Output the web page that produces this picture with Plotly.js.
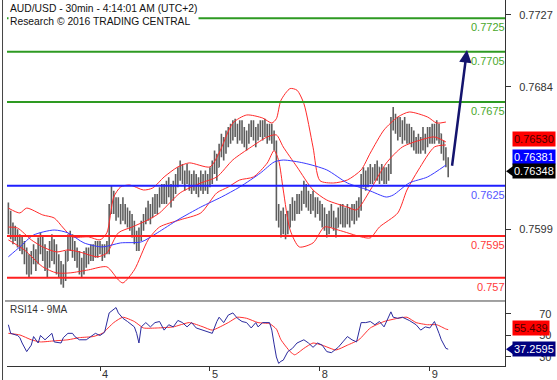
<!DOCTYPE html>
<html><head><meta charset="utf-8">
<script src="https://cdn.plot.ly/plotly-3.0.1.min.js"></script>
<style>html,body{margin:0;padding:0;background:#fff}#c{width:557px;height:380px}</style>
</head><body><div id="c"></div>
<script>
// Prices are stored in pips above BASE (price = BASE + v * PIP)
const BASE = 0.75, PIP = 0.0001;
const dayIdx = [40, 88, 136, 184];
const dayLbl = ['4', '5', '8', '9'];

const opens = [104,108,100,96,98,94,92,90,84,80, 78,82,86,80,88,92,86,82,78,84, 90,86,80,76,72,70,80,90,94,88,
 86,82,78,74,80,84,82,86,84,88, 86,88,84,86,88,110,118,115,110,112, 108,112,108,106,104,100,96,92,94,100,
 104,108,110,106,112,116,114,118,122,118, 120,124,118,122,126,130,134,130,128,132, 128,126,130,128,124,128,126,130,126,128,
 134,140,136,144,150,146,152,156,154,158, 160,156,160,158,154,152,156,160,158,154, 156,160,158,160,156,158,156,150,110,106,
 100,104,98,104,108,112,110,116,114,118, 122,118,116,114,116,112,114,110,104,106, 100,104,108,104,100,106,110,108,104,108,
 106,110,108,110,112,126,132,128,130,134, 130,132,136,130,134,130,132,134,160,166, 162,158,162,156,160,156,158,154,152,148,
 152,150,154,150,156,154,158,156,160,156, 150,146,140];
const highs = [115,110,103,101,99,96,95,92,88,84, 86,90,87,94,97,95,90,86,92,96, 93,90,84,80,78,86,96,98,96,92,
 88,86,82,86,88,88,90,90,92,92, 92,90,90,92,114,125,122,118,118,114, 118,114,112,110,108,104,98,100,104,108,
 112,116,114,118,120,120,124,126,126,128, 130,126,128,132,136,140,138,134,138,134, 132,134,132,130,134,132,134,132,136,140,
 146,144,150,156,154,158,160,162,164,165, 162,164,164,160,158,162,164,164,160,162, 164,164,165,162,162,162,158,152,114,110,
 112,108,110,114,118,116,120,120,122,128, 126,122,120,122,118,118,116,114,112,108, 110,114,110,106,112,114,114,112,114,112,
 114,114,116,118,132,136,134,136,138,136, 138,140,136,138,136,136,138,166,172,168, 166,166,164,166,162,162,160,158,154,156,
 154,160,156,160,160,162,162,164,162,156, 152,148,142];
const lows = [96,93,90,92,88,86,84,78,72,70, 72,78,74,78,84,80,74,70,76,80, 78,72,70,66,64,68,80,86,82,80,
 76,72,70,72,76,78,80,80,82,82, 84,80,82,84,84,108,108,104,106,102, 104,102,100,98,94,90,86,86,92,98,
 102,104,102,106,108,108,112,114,114,114, 118,112,116,120,124,128,126,122,126,122, 120,122,120,118,122,120,122,120,124,126,
 132,128,136,142,140,144,148,150,152,154, 150,152,150,148,146,150,154,152,148,152, 154,152,154,150,152,150,146,104,100,94,
 96,93,96,100,104,104,108,108,110,114, 112,110,108,110,106,108,104,100,98,94, 96,100,98,94,100,102,100,100,102,100,
 104,102,104,106,110,124,122,124,126,126, 128,128,126,128,126,126,128,132,158,156, 152,154,150,152,150,150,148,146,144,144,
 144,146,144,148,150,150,150,152,150,144, 140,136,130];
const closes = [108,100,96,98,94,92,90,84,80,78, 82,86,80,88,92,86,82,78,84,90, 86,80,76,72,70,80,90,94,88,86,
 82,78,74,80,84,82,86,84,88,86, 88,84,86,88,110,118,115,110,112,108, 112,108,106,104,100,96,92,94,100,104,
 108,110,106,112,116,114,118,122,118,120, 124,118,122,126,130,134,130,128,132,128, 126,130,128,124,128,126,130,126,128,134,
 140,136,144,150,146,152,156,154,158,160, 156,160,158,154,152,156,160,158,154,156, 160,158,160,156,158,156,150,110,106,100,
 104,98,104,108,112,110,116,114,118,122, 118,116,114,116,112,114,110,104,106,100, 104,108,104,100,106,110,108,104,108,106,
 110,108,110,112,126,132,128,130,134,130, 132,136,130,134,130,132,134,160,166,162, 158,162,156,160,156,158,154,152,148,152,
 150,154,150,156,154,158,156,160,156,150, 146,140,134.8];

// Bollinger bands (pips) sampled along the bar index
const upX  = [0,5,8,15,20,24,28,35,40,43,46,49,53,59,63,68,74,79,88,92,98,104,111,115,117,119,123,126,129,133,136,142,148,154,158,164,170,175,183,187,191];
const upV  = [111.6,108.7,111.6,107.5,105.7,99.7,94.4,94.4,92.6,96.8,118.2,124.2,125.4,122.4,123.6,130.2,136.2,138.6,136.2,144.5,162.4,167.2,165.4,162.4,165,176,183,182,174,148,128,126.6,128.4,134.4,144.5,158.3,166,169,166,162.4,163];
const midX = [0,4,10,15,21,26,31,39,43,48,54,61,66,75,84,91,98,106,113,117,120,126,133,139,148,152,158,165,172,180,186,191];
const midV = [100.3,99.7,92.6,88.4,85.4,86.6,85.4,82.5,84.8,96.8,100.3,104.6,108.7,120.7,126.6,130.2,140.4,148.1,154.1,155.3,148.1,136.2,122.4,116.4,112.2,110.5,122.4,138.5,148.1,152.3,154.1,151.1];
const lowX = [0,7,15,21,27,35,43,48,50,55,61,66,75,84,91,96,101,107,113,116,118,120,123,127,133,138,144,154,158,162,170,174,179,186,191];
const lowV = [92.6,86.6,76.5,72.9,72.9,74.7,76.5,68.7,66.9,74.7,92.6,100.3,104.6,108.7,120.7,124.2,128.4,130.2,138.5,146,140,122.4,98.5,88.4,90.8,100.3,98.5,94.4,93.8,100.3,108.7,122.4,134.4,148.1,149.3];
// Blue moving average (pips)
const maX = [0,5,11,20,26,33,41,49,58,65,74,84,93,101,110,116,120,129,139,148,157,165,168,175,183,191];
const maV = [82.5,88.4,95.5,98.5,96.8,90.8,88.4,90.8,91.4,96.8,104.6,112.2,118.2,124.2,132.5,139.1,140.3,138.5,134.4,126.6,122.4,118.2,119.4,126.6,130.2,137.3];

// Support / resistance levels
const greenLevels = [0.7725, 0.7705, 0.7675];
const blueLevels = [0.7625];
const redLevels = [0.7595, 0.757];
const levelLabels = ['0.7725','0.7705','0.7675','0.7625','0.7595','0.757'];

// Projected path arrow [index, price]
const arrowFrom = [193.6, 0.7636];
const arrowTo = [200.2, 0.7706];

// RSI(14) and its 9-period MA
const rsiX = [0,1,4,5,6,8,10,11,13,14,16,19,20,23,24,26,28,29,31,34,36,38,40,42,44,47,48,50,52,55,56,57,58,60,62,64,66,68,70,72,74,76,78,80,82,85,87,89,91,92,94,96,98,100,102,104,106,108,109,111,114,115,116,117,118,119,120,122,124,126,129,131,133,135,137,139,141,144,146,148,150,152,154,156,158,160,162,164,167,168,170,172,175,178,180,182,184,186,188,189,191,192];
const rsiV = [60,52,50,48,43,35,41,49,43,50,46,52,44,43,48,52,52,49,46,46,49,52,50,53,71,76,71,66,63,58,52,43,58,62,58,62,63,55,60,58,64,62,58,62,57,55,53,52,63,67,62,69,71,66,63,62,57,62,58,62,62,55,42,30,24,26,27,35,38,43,46,43,39,43,41,35,34,39,44,49,46,44,62,62,63,60,63,58,72,67,66,67,64,60,55,58,57,63,52,46,38,37.2595];
const rsiMaX = [0,5,10,14,20,26,31,37,41,46,50,55,59,65,72,79,85,89,96,100,104,109,114,117,119,123,125,129,133,137,143,148,153,158,164,170,174,178,183,187,191,192];
const rsiMaV = [52,50.5,46,44,45,46,48,49,52,62,67,63,57,57,58,62,58,55,62,67,66,62,61,56,46,35,32,38,43,41,36.5,41,46,57,63,66,67,62,60,60,56,55.439];

// Current values shown on the right axis
const lastUpper = 0.76530, lastMA = 0.76381, lastClose = 0.76348;
const lastRsiMa = 55.439, lastRsi = 37.2595;

const P = v => BASE + v * PIP;
const idx = closes.map((_, i) => i);
const FONT = 'Liberation Sans, Arial, sans-serif';

const mainDom = [0.1776, 1];
const traces = [
  {type:'ohlc', x:idx, open:opens.map(P), high:highs.map(P), low:lows.map(P), close:closes.map(P),
   increasing:{line:{color:'#5e5e5e', width:1.6}}, decreasing:{line:{color:'#5e5e5e', width:1.6}},
   tickwidth:0.35, hoverinfo:'skip', xaxis:'x', yaxis:'y'},
  {type:'scatter', mode:'lines', x:upX, y:upV.map(P), line:{color:'#ff2a2a', width:1, shape:'spline', smoothing:0.7}, hoverinfo:'skip'},
  {type:'scatter', mode:'lines', x:midX, y:midV.map(P), line:{color:'#ff2a2a', width:1, shape:'spline', smoothing:0.7}, hoverinfo:'skip'},
  {type:'scatter', mode:'lines', x:lowX, y:lowV.map(P), line:{color:'#ff2a2a', width:1, shape:'spline', smoothing:0.7}, hoverinfo:'skip'},
  {type:'scatter', mode:'lines', x:maX, y:maV.map(P), line:{color:'#3a3aff', width:1, shape:'spline', smoothing:0.7}, hoverinfo:'skip'},
  {type:'scatter', mode:'lines', x:rsiMaX, y:rsiMaV, yaxis:'y2', line:{color:'#ff3030', width:1, shape:'spline', smoothing:0.5}, hoverinfo:'skip'},
  {type:'scatter', mode:'lines', x:rsiX, y:rsiV, yaxis:'y2', line:{color:'#2b2b9e', width:1}, hoverinfo:'skip'}
];

const shapes = [];
const annotations = [];
function addLevel(v, color, txtColor, label) {
  shapes.push({type:'line', xref:'paper', x0:0, x1:1, yref:'y', y0:v, y1:v, line:{color:color, width:2}});
  annotations.push({xref:'paper', x:1, xanchor:'right', xshift:2, yref:'y', y:v, yanchor:'top', yshift:-1,
    text:label, showarrow:false, font:{family:FONT, size:11, color:txtColor}});
}
let li = 0;
greenLevels.forEach(v => addLevel(v, '#2e9a22', '#4aa82c', levelLabels[li++]));
blueLevels.forEach(v => addLevel(v, '#1f1fff', '#5555ff', levelLabels[li++]));
redLevels.forEach(v => addLevel(v, '#ff2020', '#ff3a3a', levelLabels[li++]));

// frame lines
shapes.push({type:'line', xref:'paper', x0:-0.004, x1:1, yref:'paper', y0:mainDom[0], y1:mainDom[0], line:{color:'#444', width:1}});
shapes.push({type:'line', xref:'paper', x0:-0.009, x1:-0.009, yref:'paper', y0:-0.05, y1:1, line:{color:'#444', width:1}});

// value boxes
function box(yref, y, txt, bg, fc, yshift, pointer) {
  annotations.push({xref:'paper', x:1, xanchor:'left', xshift:7, yref:yref, y:y, yanchor:'middle', yshift:yshift,
    text:txt, showarrow:false, bgcolor:bg, borderpad:1, font:{family:FONT, size:11, color:fc}});
  if (pointer) {
    shapes.push({type:'path', xref:'paper', xsizemode:'pixel', xanchor:1, yref:yref, ysizemode:'pixel', yanchor:y,
      path:'M 1 ' + yshift + ' L 8 ' + (yshift + 5) + ' L 8 ' + (yshift - 5) + ' Z', fillcolor:bg, line:{width:0}});
  }
}
box('y', lastUpper, lastUpper.toFixed(5), '#ff0000', '#4a0000', 0, false);
box('y', lastMA, lastMA.toFixed(5), '#0000ff', '#ffffff', 7, false);
box('y', lastClose, lastClose.toFixed(5), '#000000', '#ffffff', -2, true);
box('y2', lastRsiMa, lastRsiMa.toFixed(3), '#ff0000', '#4a0000', 2, false);
box('y2', lastRsi, lastRsi.toFixed(4), '#00007f', '#ffffff', 0, true);

// projection arrow
annotations.push({x:arrowTo[0], y:arrowTo[1], xref:'x', yref:'y', ax:arrowFrom[0], ay:arrowFrom[1], axref:'x', ayref:'y',
  showarrow:true, arrowhead:2, arrowsize:1, arrowwidth:2.5, arrowcolor:'#14146e', text:''});

// titles
annotations.push({xref:'paper', x:0.002, xanchor:'left', yref:'paper', y:1, yanchor:'top', yshift:-1, align:'left',
  text:'AUD/USD - 30min - 4:14:01 AM (UTC+2)<br>Research © 2016 TRADING CENTRAL', showarrow:false,
  bgcolor:'#ffffff', borderpad:1, font:{family:FONT, size:10.3, color:'#111'}});
annotations.push({xref:'paper', x:0.002, xanchor:'left', yref:'paper', y:mainDom[0], yanchor:'top', yshift:-1,
  text:'RSI14 - 9MA', showarrow:false, font:{family:FONT, size:10, color:'#333'}});

const layout = {
  width:557, height:380, margin:{l:7, r:52, t:0, b:14}, paper_bgcolor:'#fff', plot_bgcolor:'#fff',
  showlegend:false, font:{family:FONT, size:11, color:'#333'},
  xaxis:{range:[-0.6, 216.8], anchor:'y2', tickvals:dayIdx, ticktext:dayLbl, ticks:'outside', ticklen:4, tickcolor:'#333',
    showline:true, linecolor:'#333', showgrid:false, zeroline:false, rangeslider:{visible:false}, fixedrange:true,
    tickfont:{size:11, color:'#333'}, ticklabelshift:5, ticklabelstandoff:-6},
  yaxis:{domain:mainDom, range:[0.75561, 0.77359], side:'right', tickvals:[0.7727, 0.7684, 0.7599], tickformat:'.4f',
    ticks:'outside', ticklen:5, tickcolor:'#333', showline:true, linecolor:'#333', showgrid:false, zeroline:false,
    ticklabelstandoff:6, tickfont:{size:11, color:'#333'}, fixedrange:true},
  yaxis2:{domain:[0, mainDom[0]], range:[21.6, 82.1], side:'right', tickvals:[30, 50, 70], ticks:'outside', ticklen:5,
    tickcolor:'#333', showline:true, linecolor:'#333', showgrid:false, zeroline:false, ticklabelstandoff:26,
    tickfont:{size:11, color:'#333'}, fixedrange:true},
  shapes:shapes, annotations:annotations
};
Plotly.newPlot('c', traces, layout, {displayModeBar:false, staticPlot:true});
</script></body></html>
